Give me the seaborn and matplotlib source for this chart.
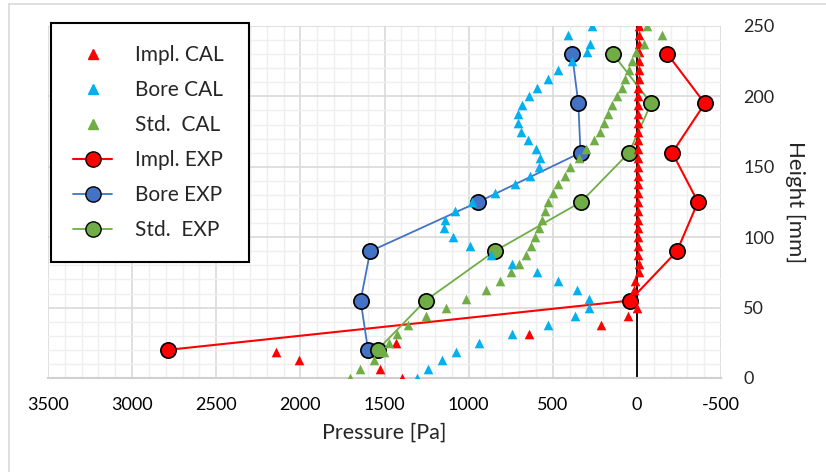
import matplotlib
matplotlib.use("Agg")
import matplotlib.pyplot as plt
import seaborn as sns
from matplotlib.lines import Line2D
from matplotlib.ticker import MultipleLocator

# Calculated profiles (heights in mm, pressures in Pa)
cal_height = [0, 6.25, 12.5, 18.75, 25, 31.25, 37.5, 43.75, 50, 56.25,
              62.5, 68.75, 75, 81.25, 87.5, 93.75, 100, 106.25, 112.5, 118.75,
              125, 131.25, 137.5, 143.75, 150, 156.25, 162.5, 168.75, 175, 181.25,
              187.5, 193.75, 200, 206.25, 212.5, 218.75, 225, 231.25, 237.5, 243.75,
              250]
impl_cal = [1395, 1528, 2010, 2142, 1433, 641, 214, 50, 2, 15,
            16, 10, -10, -10, -8, -6, -5, -5, -4, -5,
            -5, -6, -6, -5, -6, -6, -7, -7, -8, -8,
            -8, -9, -9, -9, -10, -10, -10, -11, -11, -11,
            -12]
bore_cal = [1306, 1242, 1161, 1077, 939, 740, 530, 367, 284, 284,
            357, 467, 592, 740, 869, 994, 1093, 1147, 1141, 1082,
            978, 845, 724, 637, 582, 577, 601, 645, 690, 708,
            706, 681, 641, 592, 528, 467, 383, 298, 276, 411,
            264]
std_cal = [1708, 1643, 1564, 1504, 1475, 1425, 1360, 1256, 1137, 1014,
           899, 815, 749, 700, 660, 630, 603, 580, 562, 545,
           528, 498, 468, 430, 395, 345, 300, 256, 220, 195,
           169, 145, 120, 90, 70, 46, 30, 6, -43, -149,
           -58]

# Measured profiles
exp_height = [20, 55, 90, 125, 160, 195, 230]
impl_exp = [2785, 41, -238, -363, -210, -404, -182]
bore_exp = [1598, 1642, 1585, 943, 335, 348, 385]
std_exp = [1541, 1256, 846, 332, 47, -85, 141]

RED = "#FF0000"
BLUE = "#4472C4"
LBLUE = "#00B0F0"
GREEN = "#70AD47"

sns.set_style("white")
plt.rcParams["font.family"] = ["Lato", "DejaVu Sans"]
plt.rcParams["axes.unicode_minus"] = False

fig = plt.figure(figsize=(8.26, 4.72), dpi=100)
ax = fig.add_axes([48 / 826, 1 - 378 / 472, (721 - 48) / 826, (378 - 26) / 472])

# Experimental series (lines with circles)
for vals, col, lw in [(impl_exp, RED, 1.5), (bore_exp, BLUE, 1.3), (std_exp, GREEN, 1.3)]:
    sns.lineplot(x=vals, y=exp_height, sort=False, estimator=None, ax=ax,
                 color=col, lw=lw, marker="o", markersize=11,
                 markerfacecolor=col, markeredgecolor="black",
                 markeredgewidth=1.2, zorder=3)

ax.axvline(0, color="black", lw=1.3, zorder=2.5)

# Calculated series (triangles)
for vals, col in [(impl_cal, RED), (bore_cal, LBLUE), (std_cal, GREEN)]:
    sns.scatterplot(x=vals, y=cal_height, ax=ax, color=col, marker="^",
                    s=48, linewidth=0, zorder=4)

ax.set_xlim(3500, -500)
ax.set_ylim(0, 250)
ax.xaxis.set_major_locator(MultipleLocator(500))
ax.xaxis.set_minor_locator(MultipleLocator(100))
ax.yaxis.set_major_locator(MultipleLocator(50))
ax.yaxis.set_minor_locator(MultipleLocator(10))
ax.set_axisbelow(True)
ax.grid(which="major", color="#D9D9D9", lw=1.2)
ax.grid(which="minor", color="#EFEFEF", lw=1.0)

for side in ["top", "left", "right"]:
    ax.spines[side].set_visible(False)
ax.spines["bottom"].set_color("#D0D0D0")
ax.spines["bottom"].set_linewidth(1.5)

ax.tick_params(which="both", length=0)
ax.tick_params(axis="x", labelsize=13, pad=14, colors="#000000")
ax.tick_params(axis="y", labelsize=13, pad=16, left=False, labelleft=False,
               right=False, labelright=True)

ax.set_xlabel("Pressure [Pa]", fontsize=15.5, labelpad=7)
ax.yaxis.set_label_position("right")
ax.set_ylabel("Height [mm]", fontsize=16, rotation=270, labelpad=22)

handles = [
    Line2D([], [], ls="none", marker="^", color=RED, markersize=7),
    Line2D([], [], ls="none", marker="^", color=LBLUE, markersize=7),
    Line2D([], [], ls="none", marker="^", color=GREEN, markersize=7),
    Line2D([], [], color=RED, lw=1.5, marker="o", markersize=11,
           markerfacecolor=RED, markeredgecolor="black"),
    Line2D([], [], color=BLUE, lw=1.3, marker="o", markersize=11,
           markerfacecolor=BLUE, markeredgecolor="black"),
    Line2D([], [], color=GREEN, lw=1.3, marker="o", markersize=11,
           markerfacecolor=GREEN, markeredgecolor="black"),
]
labels = ["Impl. CAL", "Bore CAL", "Std.  CAL", "Impl. EXP", "Bore EXP", "Std.  EXP"]
leg = fig.legend(handles, labels, loc="upper left",
                 bbox_to_anchor=(51 / 826, 1 - 23 / 472, 198 / 826, 0),
                 mode="expand", fontsize=15, frameon=True, fancybox=False,
                 edgecolor="black", framealpha=1, labelspacing=0.72,
                 borderpad=1.05, borderaxespad=0, handlelength=1.9,
                 handletextpad=1.1)
leg.get_frame().set_linewidth(1.5)

# chart-area border
fig.add_artist(Line2D([9 / 826, 9 / 826], [0, 1 - 4 / 472],
                      color="#D9D9D9", lw=1.2, transform=fig.transFigure))
fig.add_artist(Line2D([9 / 826, 1], [1 - 4 / 472, 1 - 4 / 472],
                      color="#D9D9D9", lw=1.2, transform=fig.transFigure))

fig.savefig("out.png", dpi=100)
